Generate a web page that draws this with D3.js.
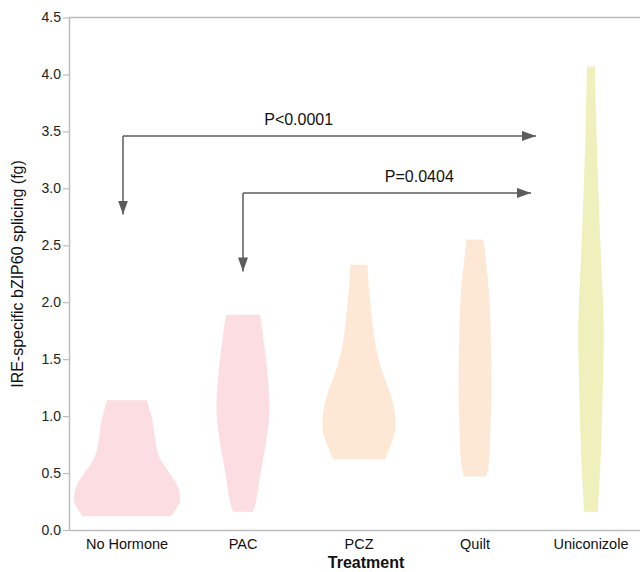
<!DOCTYPE html>
<html>
<head>
<meta charset="utf-8">
<script src="https://cdn.jsdelivr.net/npm/d3@7"></script>
<style>
  body { margin: 0; background: #fff; }
  svg { display: block; font-family: "Liberation Sans", Arial, Helvetica, sans-serif; }
</style>
</head>
<body>
<svg id="chart" width="640" height="572"></svg>
<script>
// Treatments and colours
var treatments = ["No Hormone", "PAC", "PCZ", "Quilt", "Uniconizole"];
var colors = ["#fcdde2", "#fcdde2", "#fde8d6", "#fde8d6", "#eff0bb"];

// Violin outlines: value (fg) and relative density at that value
var noHormoneY = [0.12, 0.18, 0.26, 0.38, 0.50, 0.64, 0.79, 0.94, 1.05, 1.14];
var noHormoneD = [0.83, 0.92, 1.00, 0.96, 0.80, 0.61, 0.53, 0.49, 0.43, 0.38];
var pacY = [0.16, 0.26, 0.47, 0.76, 1.05, 1.43, 1.73, 1.89];
var pacD = [0.19, 0.25, 0.32, 0.43, 0.50, 0.45, 0.37, 0.32];
var pczY = [0.62, 0.75, 0.86, 1.01, 1.19, 1.39, 1.60, 1.83, 2.12, 2.33];
var pczD = [0.49, 0.60, 0.68, 0.68, 0.60, 0.44, 0.32, 0.25, 0.19, 0.16];
var quiltY = [0.47, 0.55, 0.64, 0.88, 1.17, 1.61, 2.05, 2.34, 2.55];
var quiltD = [0.21, 0.25, 0.27, 0.29, 0.31, 0.30, 0.27, 0.21, 0.16];
var uniY = [0.16, 0.61, 1.20, 1.78, 2.37, 2.96, 3.54, 4.07];
var uniD = [0.13, 0.18, 0.22, 0.24, 0.19, 0.14, 0.10, 0.075];

var violinY = [noHormoneY, pacY, pczY, quiltY, uniY];
var violinD = [noHormoneD, pacD, pczD, quiltD, uniD];

// y axis ticks
var yTicks = [0, 0.5, 1, 1.5, 2, 2.5, 3, 3.5, 4, 4.5];

// Significance arrows
var pLabels = ["P<0.0001", "P=0.0404"];
var pFrom = ["No Hormone", "PAC"];
var pTo = ["Uniconizole", "Uniconizole"];
var pLevel = [3.46, 2.96];
var pDrop = [2.77, 2.27];
var pLabelAt = [1.48, 2.52]; // label centre, in category index units

var svg = d3.select("#chart");
var mLeft = 69, mRight = 649, mTop = 17.5, mBottom = 530;

var x = d3.scaleBand().domain(treatments).range([mLeft, mRight]);
var step = x.step();
var xIdx = d3.scaleLinear().domain([0, 1]).range([mLeft + step / 2, mLeft + step * 1.5]);
var y = d3.scaleLinear().domain([0, 4.5]).range([mBottom, mTop]);
var w = d3.scaleLinear().domain([0, 1]).range([0, 53]);

// Violins
treatments.forEach(function(t, i) {
  var cx = x(t) + x.bandwidth() / 2;
  var pts = violinY[i].map(function(v, j) { return {v: v, d: violinD[i][j]}; });
  var area = d3.area()
    .y(function(p) { return y(p.v); })
    .x0(function(p) { return cx - w(p.d); })
    .x1(function(p) { return cx + w(p.d); })
    .curve(d3.curveCatmullRom.alpha(0.5));
  svg.append("path")
    .attr("d", area(pts))
    .attr("fill", colors[i]);
});

// Axes
var yAxis = svg.append("g")
  .attr("transform", "translate(" + mLeft + ",0)")
  .call(d3.axisLeft(y).tickValues(yTicks).tickFormat(d3.format(".1f")).tickSize(6).tickSizeOuter(0));
yAxis.select(".domain").attr("stroke", "#bdbdbd").attr("stroke-width", 1.5);
yAxis.selectAll(".tick line").attr("stroke", "#bdbdbd").attr("stroke-width", 1.2);
yAxis.selectAll(".tick text").attr("font-size", 14).attr("fill", "#222").attr("x", -8)
  .attr("font-family", "Liberation Sans, Arial, sans-serif");

var xAxis = svg.append("g")
  .attr("transform", "translate(0," + mBottom + ")")
  .call(d3.axisBottom(x).tickSize(0).tickSizeOuter(0).tickPadding(9));
xAxis.select(".domain").attr("stroke", "#bdbdbd").attr("stroke-width", 1.5);
xAxis.selectAll(".tick text").attr("font-size", 14.5).attr("fill", "#111")
  .attr("font-family", "Liberation Sans, Arial, sans-serif");

// top border
svg.append("line")
  .attr("x1", mLeft).attr("x2", 640)
  .attr("y1", y(4.5)).attr("y2", y(4.5))
  .attr("stroke", "#bdbdbd").attr("stroke-width", 1.5);

// Axis titles
svg.append("text")
  .attr("transform", "translate(23," + 274 + ") rotate(-90)")
  .attr("text-anchor", "middle")
  .attr("font-size", 16)
  .attr("fill", "#111")
  .text("IRE-specific bZIP60 splicing (fg)");

svg.append("text")
  .attr("x", 366).attr("y", 568)
  .attr("text-anchor", "middle")
  .attr("font-size", 16)
  .attr("font-weight", "bold")
  .attr("fill", "#111")
  .text("Treatment");

// Arrowhead marker
svg.append("defs").append("marker")
  .attr("id", "head")
  .attr("markerUnits", "userSpaceOnUse")
  .attr("viewBox", "0 0 14 10")
  .attr("refX", 14).attr("refY", 5)
  .attr("markerWidth", 14).attr("markerHeight", 10)
  .attr("orient", "auto")
  .append("path")
  .attr("d", "M0,0 L14,5 L0,10 Z")
  .attr("fill", "#5c5c5c");

// Significance arrows
pLabels.forEach(function(lab, i) {
  var xs = x(pFrom[i]) + x.bandwidth() / 2 - (i === 0 ? 4 : 0);
  var xe = x(pTo[i]) + x.bandwidth() / 2 - step / 2 + (i === 0 ? 3 : -2);
  var g = svg.append("g");
  g.append("line")
    .attr("x1", xs).attr("x2", xe)
    .attr("y1", y(pLevel[i])).attr("y2", y(pLevel[i]))
    .attr("stroke", "#5c5c5c").attr("stroke-width", 1.5)
    .attr("marker-end", "url(#head)");
  g.append("line")
    .attr("x1", xs).attr("x2", xs)
    .attr("y1", y(pLevel[i])).attr("y2", y(pDrop[i]))
    .attr("stroke", "#5c5c5c").attr("stroke-width", 1.5)
    .attr("marker-end", "url(#head)");
  g.append("text")
    .attr("x", xIdx(pLabelAt[i]))
    .attr("y", y(pLevel[i]) - 11)
    .attr("text-anchor", "middle")
    .attr("font-size", 16)
    .attr("fill", "#111")
    .text(lab);
});
</script>
</body>
</html>
